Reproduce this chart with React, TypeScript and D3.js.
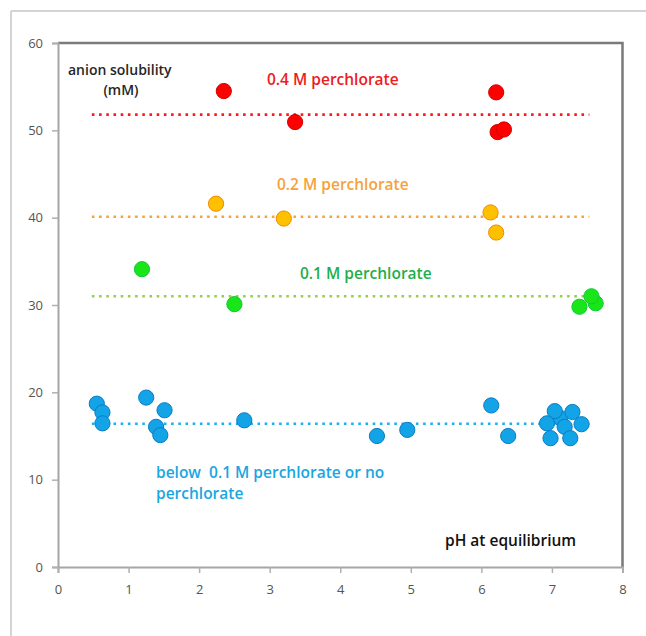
import React, { useEffect, useRef } from 'react';
import * as d3 from 'd3';

// pH at equilibrium vs anion solubility (mM)
const redPoints: [number, number][] = [[2.35, 54.5], [3.36, 50.95], [6.21, 54.35], [6.23, 49.8], [6.32, 50.1]];
const orangePoints: [number, number][] = [[2.24, 41.6], [3.2, 39.9], [6.13, 40.6], [6.21, 38.3]];
const greenPoints: [number, number][] = [[1.19, 34.1], [2.5, 30.1], [7.39, 29.8], [7.62, 30.2], [7.56, 31.0]];
const bluePoints: [number, number][] = [
  [0.55, 18.7], [0.63, 17.7], [0.63, 16.45], [1.25, 19.4], [1.51, 17.95], [1.39, 16.05], [1.45, 15.1],
  [2.64, 16.8], [4.52, 15.0], [4.95, 15.7], [6.14, 18.5], [6.38, 15.0],
  [7.12, 17.05], [7.04, 17.85], [7.29, 17.75], [6.93, 16.45], [7.18, 16.05], [7.42, 16.35], [6.98, 14.75], [7.26, 14.75]
];
const levels = [51.8, 40.1, 31.0, 16.4];
const levelRange = [0.48, 7.53];
const xTicks = [0, 1, 2, 3, 4, 5, 6, 7, 8];
const yTicks = [0, 10, 20, 30, 40, 50, 60];

const series = [
  { pts: redPoints, fill: '#ff0000', stroke: '#d60000', line: '#ff1a1a', level: levels[0] },
  { pts: orangePoints, fill: '#ffc000', stroke: '#f08a00', line: '#f7a23a', level: levels[1] },
  { pts: greenPoints, fill: '#19e619', stroke: '#10c83a', line: '#92d050', level: levels[2] },
  { pts: bluePoints, fill: '#12a4e6', stroke: '#0b7cc4', line: '#1ab2ea', level: levels[3] },
];

export default function App() {
  const ref = useRef<SVGSVGElement>(null);

  useEffect(() => {
    const W = 646, H = 636;
    const svg = d3.select(ref.current);
    svg.selectAll('*').remove();

    const x = d3.scaleLinear().domain([0, 8]).range([58, 622.5]);
    const y = d3.scaleLinear().domain([0, 60]).range([567, 43]);
    const font = '"Open Sans", "Liberation Sans", sans-serif';

    svg.append('rect').attr('width', W).attr('height', H).attr('fill', '#fff');

    // outer frame (only top and left visible)
    svg.append('line').attr('x1', 11).attr('x2', W).attr('y1', 11).attr('y2', 11)
      .attr('stroke', '#d4d4d4').attr('stroke-width', 2);
    svg.append('line').attr('x1', 11).attr('x2', 11).attr('y1', 11).attr('y2', H)
      .attr('stroke', '#d4d4d4').attr('stroke-width', 2);

    // plot border top / right
    svg.append('path')
      .attr('d', `M${x(0)},${y(60)}H${x(8)}V${y(0)}`)
      .attr('fill', 'none').attr('stroke', '#7a7a7a').attr('stroke-width', 2.5);

    const yAxis = svg.append('g').attr('transform', `translate(${x(0)},0)`)
      .call(d3.axisLeft(y).tickValues(yTicks).tickSize(6).tickPadding(9));
    const xAxis = svg.append('g').attr('transform', `translate(0,${y(0)})`)
      .call(d3.axisBottom(x).tickValues(xTicks).tickSize(6).tickPadding(12));
    [yAxis, xAxis].forEach(a => {
      a.select('.domain').attr('stroke', '#a6a6a6').attr('stroke-width', 2);
      a.selectAll('.tick line').attr('stroke', '#b0b0b0').attr('stroke-width', 1.5);
      a.selectAll('.tick text').attr('fill', '#555').attr('font-size', 13).attr('font-family', font);
    });

    // dotted level lines
    series.forEach(s => {
      svg.append('line')
        .attr('x1', x(levelRange[0])).attr('x2', x(levelRange[1]))
        .attr('y1', y(s.level)).attr('y2', y(s.level))
        .attr('stroke', s.line).attr('stroke-width', 2.6)
        .attr('stroke-dasharray', '2.6,4.6');
    });

    // points
    series.forEach(s => {
      svg.append('g').selectAll('circle').data(s.pts).enter()
        .append('circle')
        .attr('cx', d => x(d[0])).attr('cy', d => y(d[1])).attr('r', 7.6)
        .attr('fill', s.fill).attr('stroke', s.stroke).attr('stroke-width', 1);
    });

    const label = (t: string, px: number, py: number, color: string, anchor = 'start', size = 15.5) =>
      svg.append('text').attr('x', px).attr('y', py).text(t)
        .attr('fill', color).attr('font-family', font).attr('font-weight', 600)
        .attr('font-size', size).attr('text-anchor', anchor)
        .style('white-space', 'pre');

    label('anion solubility', 68, 75, '#262626', 'start', 14);
    label('(mM)', 121, 95, '#262626', 'middle', 14);
    label('0.4 M perchlorate', 267, 85, '#ee1c1c');
    label('0.2 M perchlorate', 277, 190, '#f5a23c');
    label('0.1 M perchlorate', 300, 279, '#1fae4b');
    label('below  0.1 M perchlorate or no', 156, 478, '#1aa6e0', 'start', 15.5);
    label('perchlorate', 156, 499, '#1aa6e0', 'start', 15.5);
    label('pH at equilibrium', 445, 546, '#111', 'start', 15.5);
  }, []);

  return (
    <svg ref={ref} width={646} height={636}
      style={{ position: 'absolute', left: 0, top: 0, display: 'block' }} />
  );
}
